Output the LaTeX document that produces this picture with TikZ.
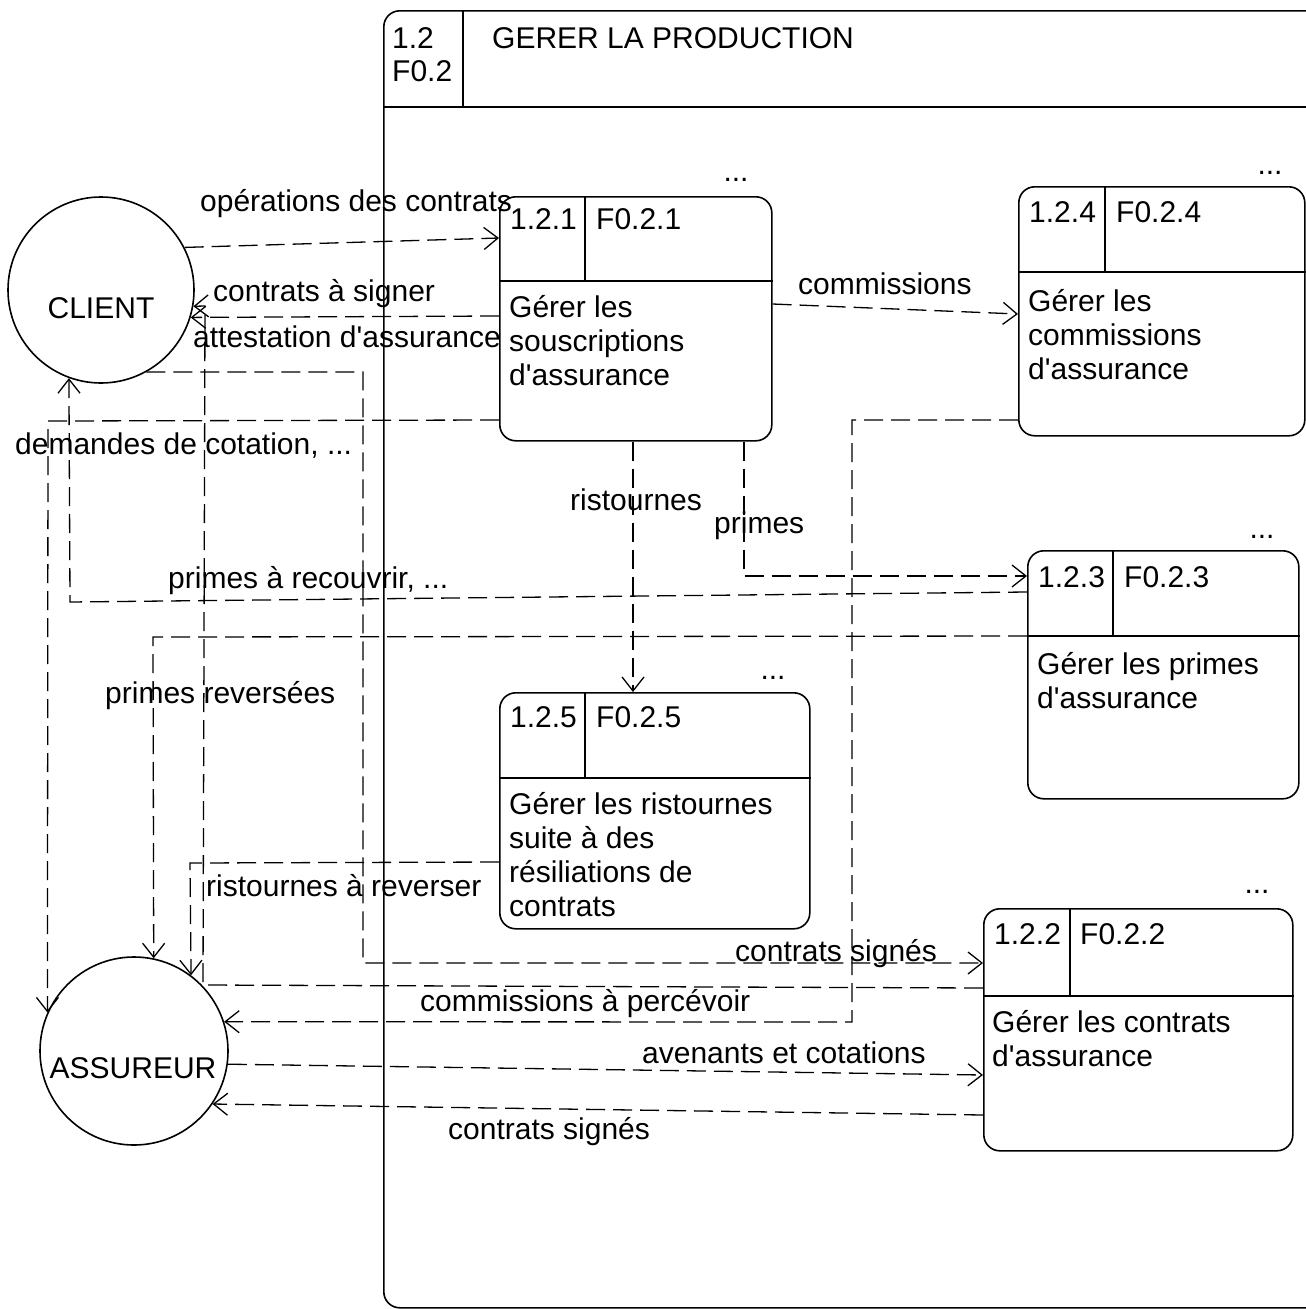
\documentclass[tikz,border=0pt]{standalone}
\usepackage{fontspec}
\setmainfont{Liberation Sans}[Ligatures=TeXOff]
\usetikzlibrary{arrows.meta,calc}

\begin{document}
\begin{tikzpicture}[x=1pt,y=-1pt,
  font=\fontsize{30}{34}\selectfont,
  link/.style={draw, line width=1.3pt, dash pattern=on 19pt off 8pt},
  flow/.style={link, -{Straight Barb[length=14pt,width=22pt,line width=1.3pt]}},
  proc/.style={draw, line width=1.6pt, rounded corners=16pt, anchor=north west, inner sep=0pt},
  ext/.style={draw, circle, line width=1.6pt, inner sep=0pt},
  rule/.style={line width=1.3pt},
  txt/.style={anchor=base west, inner sep=0pt},
  body/.style={anchor=north west, inner sep=0pt, align=left},
]
\useasboundingbox (0,0) rectangle (1306,1309);
\clip (0,0) rectangle (1306,1309);

% ---- enclosing process frame ----
\node[proc, minimum width=939pt, minimum height=1297pt] (frame) at (383,10) {};
\draw[rule] ($(frame.north west)+(0,97)$) -- ($(frame.north east)+(0,97)$);
\draw[rule] ($(frame.north west)+(80,0)$) -- ($(frame.north west)+(80,97)$);
\node[txt] (frameid) at (392,48) {1.2};
\node[txt] (framefn) at (392,81) {F0.2};
\node[txt] (frametitle) at (492,48) {GERER LA PRODUCTION};

% ---- external entities ----
\node[ext, minimum size=186pt] (client) at (101,290) {};
\node[inner sep=0pt] (clientname) at (101,308) {CLIENT};
\node[ext, minimum size=188pt] (assureur) at (134,1051) {};
\node[inner sep=0pt] (assureurname) at (133,1068) {ASSUREUR};

% ---- sub-processes ----
% 1.2.1
\node[proc, minimum width=272pt, minimum height=244pt] (b121) at (499,196) {};
\draw[rule] ($(b121.north west)+(0,85)$) -- ($(b121.north east)+(0,85)$);
\draw[rule] ($(b121.north west)+(86,0)$) -- ($(b121.north west)+(86,85)$);
\node[txt] (b121id) at (510,229) {1.2.1};
\node[txt] (b121fn) at (596,229) {F0.2.1};
\node[txt, align=left] (b121body) at (509,385) {Gérer les\\souscriptions\\d'assurance};
\node[anchor=base, inner sep=0pt] (b121more) at (736,181) {...};

% 1.2.4
\node[proc, minimum width=286pt, minimum height=249pt] (b124) at (1018,186) {};
\draw[rule] ($(b124.north west)+(0,86)$) -- ($(b124.north east)+(0,86)$);
\draw[rule] ($(b124.north west)+(87,0)$) -- ($(b124.north west)+(87,86)$);
\node[txt] (b124id) at (1029,222) {1.2.4};
\node[txt] (b124fn) at (1116,222) {F0.2.4};
\node[txt, align=left] (b124body) at (1028,379) {Gérer les\\commissions\\d'assurance};
\node[anchor=base, inner sep=0pt] (b124more) at (1270,174) {...};

% 1.2.3
\node[proc, minimum width=271pt, minimum height=248pt] (b123) at (1027,550) {};
\draw[rule] ($(b123.north west)+(0,86)$) -- ($(b123.north east)+(0,86)$);
\draw[rule] ($(b123.north west)+(86,0)$) -- ($(b123.north west)+(86,86)$);
\node[txt] (b123id) at (1038,587) {1.2.3};
\node[txt] (b123fn) at (1124,587) {F0.2.3};
\node[txt, align=left] (b123body) at (1037,708) {Gérer les primes\\d'assurance};
\node[anchor=base, inner sep=0pt] (b123more) at (1262,538) {...};

% 1.2.5
\node[proc, minimum width=310pt, minimum height=236pt] (b125) at (499,692) {};
\draw[rule] ($(b125.north west)+(0,86)$) -- ($(b125.north east)+(0,86)$);
\draw[rule] ($(b125.north west)+(86,0)$) -- ($(b125.north west)+(86,86)$);
\node[txt] (b125id) at (510,727) {1.2.5};
\node[txt] (b125fn) at (596,727) {F0.2.5};
\node[txt, align=left] (b125body) at (509,916) {Gérer les ristournes\\suite à des\\résiliations de\\contrats};
\node[anchor=base, inner sep=0pt] (b125more) at (773,679) {...};

% 1.2.2
\node[proc, minimum width=309pt, minimum height=242pt] (b122) at (983,908) {};
\draw[rule] ($(b122.north west)+(0,88)$) -- ($(b122.north east)+(0,88)$);
\draw[rule] ($(b122.north west)+(87,0)$) -- ($(b122.north west)+(87,88)$);
\node[txt] (b122id) at (994,944) {1.2.2};
\node[txt] (b122fn) at (1080,944) {F0.2.2};
\node[txt, align=left] (b122body) at (992,1066) {Gérer les contrats\\d'assurance};
\node[anchor=base, inner sep=0pt] (b122more) at (1257,893) {...};

% ---- bend points of the flows ----
\coordinate (k3a) at (203,985);
\coordinate (k3b) at (205,306);
\coordinate (k4) at (48,421);
\coordinate (k5) at (70,602);
\coordinate (k6) at (153,637);
\coordinate (k7) at (190,863);
\coordinate (k8a) at (363,372);
\coordinate (k8b) at (363,963);
\coordinate (k9a) at (852,420);
\coordinate (k9b) at (852,1022);
\coordinate (k14) at (744,576);

% ---- flows ----
\draw[flow] (client.27) -- ($(b121.north west)+(0,42)$);
\draw[flow] ($(b121.north west)+(0,120)$) -- (client.-17.5);
\draw[flow] ($(b122.north west)+(0,80)$) -- (k3a) -- (k3b) -- (client.-10);
\draw[flow] ($(b121.north west)+(0,224)$) -- (k4) -- (assureur.156.2);
\draw[flow] ($(b123.north west)+(0,42)$) -- (k5) -- (client.250.5);
\draw[flow] ($(b123.north west)+(0,86)$) -- (k6) -- (assureur.78.3);
\draw[flow] ($(b125.north west)+(0,170)$) -- (k7) -- (assureur.53.4);
\draw[flow] (client.-61.8) -- (k8a) -- (k8b) -- ($(b122.north west)+(0,55)$);
\draw[flow] ($(b124.north west)+(0,234)$) -- (k9a) -- (k9b) -- (assureur.18);
\draw[flow] (assureur.-8.6) -- ($(b122.north west)+(0,167)$);
\draw[flow] ($(b122.north west)+(0,207)$) -- (assureur.-34.3);
\draw[flow] ($(b121.north east)+(0,108)$) -- ($(b124.north west)+(0,128)$);
\draw[flow] ($(b121.south west)+(134,0)$) -- ($(b125.north west)+(134,0)$);
\draw[flow] ($(b121.south west)+(245,0)$) -- (k14) -- ($(b123.north west)+(0,26)$);

% ---- flow labels ----
\node[txt] (l1) at (200,211) {opérations des contrats};
\node[txt] (l2) at (213,301) {contrats à signer};
\node[txt] (l3) at (193,347) {attestation d'assurance};
\node[txt] (l4) at (15,454) {demandes de cotation, ...};
\node[txt] (l5) at (168,588) {primes à recouvrir, ...};
\node[txt] (l6) at (105,703) {primes reversées};
\node[txt] (l7) at (206,896) {ristournes à reverser};
\node[txt] (l8) at (735,961) {contrats signés};
\node[txt] (l9) at (420,1011) {commissions à percévoir};
\node[txt] (l10) at (642,1063) {avenants et cotations};
\node[txt] (l11) at (448,1139) {contrats signés};
\node[txt] (l12) at (798,294) {commissions};
\node[txt] (l13) at (570,510) {ristournes};
\node[txt] (l14) at (714,533) {primes};
\end{tikzpicture}
\end{document}
